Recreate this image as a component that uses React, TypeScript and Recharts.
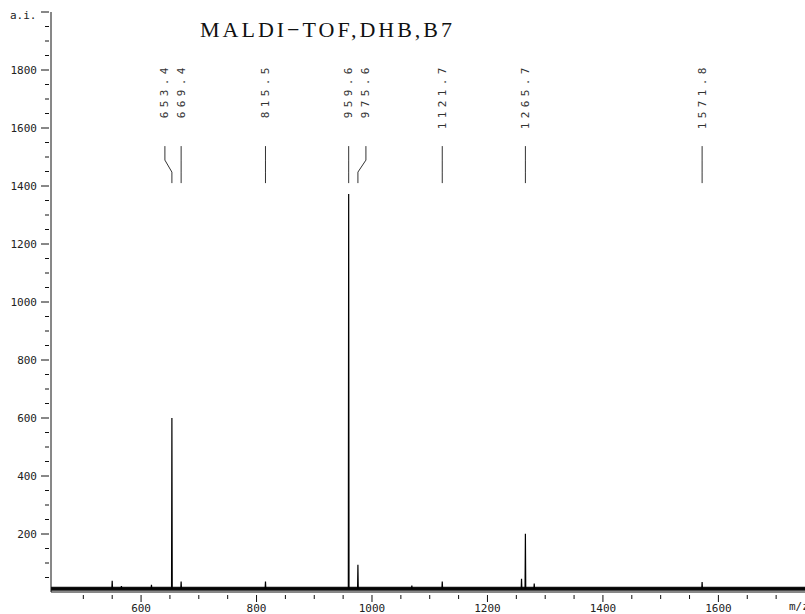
import React from "react";
import { ComposedChart, Line, Scatter, XAxis, YAxis, ReferenceLine } from "recharts";

// peak positions (m/z) and intensities (a.i.)
const peakMz = [550, 566, 618, 653.4, 669.4, 815.5, 959.6, 975.6, 1069, 1121.7, 1259, 1265.7, 1281, 1571.8];
const peakAi = [39, 20, 25, 600, 36, 36, 1372, 94, 22, 36, 46, 201, 29, 34];

// annotated peaks
const labelMz = [653.4, 669.4, 815.5, 959.6, 975.6, 1121.7, 1265.7, 1571.8];
const labelText = ["653.4", "669.4", "815.5", "959.6", "975.6", "1121.7", "1265.7", "1571.8"];

const xTicks = [500, 550, 600, 650, 700, 750, 800, 850, 900, 950, 1000, 1050, 1100, 1150, 1200, 1250,
  1300, 1350, 1400, 1450, 1500, 1550, 1600, 1650, 1700];
const xLabels = [600, 800, 1000, 1200, 1400, 1600];

const yTicks = [50, 100, 150, 200, 250, 300, 350, 400, 450, 500, 550, 600, 650, 700, 750, 800, 850, 900,
  950, 1000, 1050, 1100, 1150, 1200, 1250, 1300, 1350, 1400, 1450, 1500, 1550, 1600, 1650, 1700, 1750,
  1800, 1850, 1900, 1950, 2000];
const yLabels = [200, 400, 600, 800, 1000, 1200, 1400, 1600, 1800];

const BASE = 11;
const X_DOMAIN = [444, 1750];
const ANNOT_LEVEL = 1410;
const MONO = "'DejaVu Sans Mono', monospace";

// labels nudged sideways where two annotations sit close together
const labelShift: Record<string, number> = { "653.4": -7, "975.6": 8 };

const spectrum: { mz: number; ai: number }[] = [{ mz: X_DOMAIN[0], ai: BASE }];
peakMz.forEach((mz, i) => {
  spectrum.push({ mz: mz - 0.6, ai: BASE }, { mz, ai: peakAi[i] }, { mz: mz + 0.6, ai: BASE });
});
spectrum.push({ mz: X_DOMAIN[1], ai: BASE });

const annotations = labelMz.map((mz, i) => ({ mz, ai: ANNOT_LEVEL, label: labelText[i] }));

const YTick = ({ x, y, payload }: any) => {
  const major = yLabels.includes(payload.value) || payload.value === 2000;
  return (
    <g>
      <line x1={x - (major ? 8 : 4)} x2={x} y1={y} y2={y} stroke="#111" strokeWidth={1} />
      {yLabels.includes(payload.value) && (
        <text x={x - 12} y={y} textAnchor="end" dominantBaseline="central"
          fontFamily={MONO} fontSize={11} fill="#222">
          {payload.value}
        </text>
      )}
    </g>
  );
};

const XTick = ({ x, y, payload }: any) => {
  const major = xLabels.includes(payload.value);
  return (
    <g>
      <line x1={x} x2={x} y1={y + 1} y2={y + (major ? 8 : 5)} stroke="#111" strokeWidth={1} />
      {major && (
        <text x={x} y={y + 14} textAnchor="middle" dominantBaseline="central"
          fontFamily={MONO} fontSize={11} fill="#222">
          {payload.value}
        </text>
      )}
    </g>
  );
};

const PeakLabel = ({ cx, cy, payload }: any) => {
  const dx = labelShift[payload.label] ?? 0;
  const tx = cx + dx;
  const d = `M${cx},${cy} L${cx},${cy - 11} L${tx},${cy - 23} L${tx},${cy - 37}`;
  const ty = cy - 120;
  return (
    <g>
      <path d={d} fill="none" stroke="#333" strokeWidth={1} />
      <text x={tx} y={ty} transform={`rotate(-90, ${tx}, ${ty})`} textAnchor="end"
        dominantBaseline="central" fontFamily={MONO} fontSize={11} letterSpacing={4.4} fill="#333">
        {payload.label}
      </text>
    </g>
  );
};

export default function App() {
  return (
    <div style={{ position: "absolute", left: 0, top: 0, width: 805, height: 614, background: "#fff" }}>
      <ComposedChart width={805} height={614} margin={{ top: 12, right: 0, bottom: 0, left: 0 }}>
        <XAxis
          type="number"
          dataKey="mz"
          domain={X_DOMAIN}
          allowDataOverflow
          ticks={xTicks}
          interval={0}
          tickSize={0}
          tickLine={false}
          tick={<XTick />}
          axisLine={{ stroke: "#111" }}
          height={22}
        />
        <YAxis
          type="number"
          dataKey="ai"
          domain={[0, 2000]}
          allowDataOverflow
          ticks={yTicks}
          interval={0}
          tickSize={0}
          tickLine={false}
          tick={<YTick />}
          axisLine={{ stroke: "#111" }}
          width={51}
        />
        <ReferenceLine y={BASE} stroke="#111" strokeWidth={4} />
        <Line
          data={spectrum}
          dataKey="ai"
          type="linear"
          stroke="#000"
          strokeWidth={1.2}
          dot={false}
          isAnimationActive={false}
        />
        <Scatter
          data={annotations}
          dataKey="ai"
          shape={<PeakLabel />}
          isAnimationActive={false}
        />
      </ComposedChart>
      <svg width={805} height={614} style={{ position: "absolute", left: 0, top: 0, pointerEvents: "none" }}>
        <text x={10} y={19} fontFamily={MONO} fontSize={11} fill="#222">a.i.</text>
        <text x={200} y={37} fontFamily="'Liberation Serif', serif" fontSize={22} letterSpacing={3} fill="#111">
          MALDI−TOF,DHB,B7
        </text>
        <text x={789} y={610} fontFamily={MONO} fontSize={11} fill="#222">m/z</text>
      </svg>
    </div>
  );
}
